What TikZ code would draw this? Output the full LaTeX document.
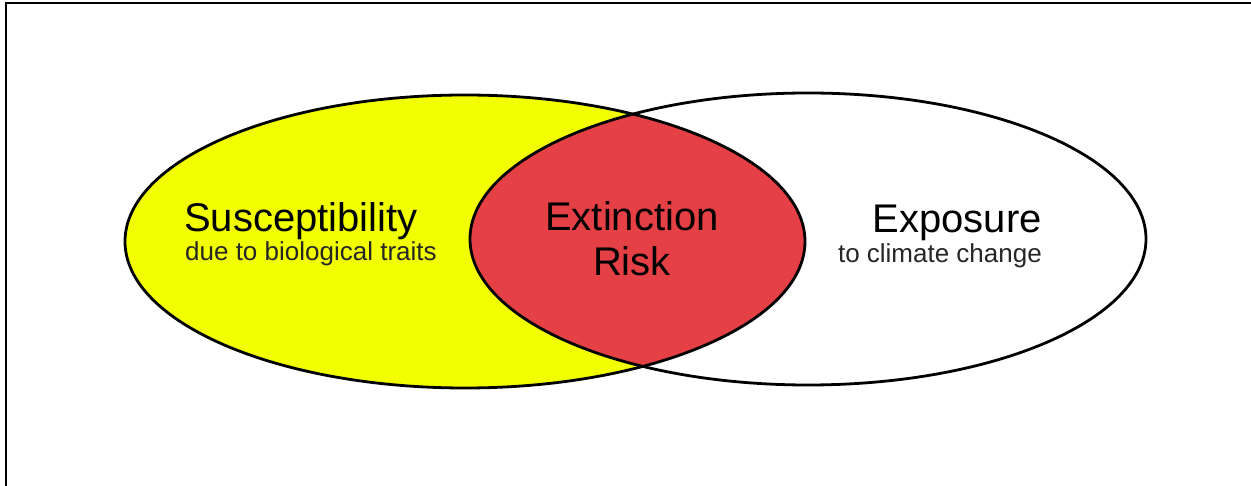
\documentclass[tikz,border=0pt]{standalone}
\usepackage{fontspec}
\setmainfont{Liberation Sans}
\definecolor{venyellow}{HTML}{F2FF00}
\definecolor{venred}{HTML}{E54045}
\begin{document}
\begin{tikzpicture}[x=1pt,y=-1pt,
  outline/.style={draw=black,line width=2.8pt},
  bigtxt/.style={font=\fontsize{40}{43}\selectfont,inner sep=0pt},
  smalltxt/.style={font=\fontsize{26}{29}\selectfont,inner sep=0pt,text=black!85}]
\useasboundingbox (0,0) rectangle (1251,486);
\fill[white] (0,0) rectangle (1251,486);
% frame (cropped)
\coordinate (fa) at (6,486);
\coordinate (fb) at (6,3);
\coordinate (fc) at (1251,3);
\draw[line width=2.2pt] (fa) -- (fb) -- (fc);
% ellipses
\coordinate (L) at (465,241.5);
\coordinate (R) at (808,239);
\fill[venyellow] (L) ellipse [x radius=340, y radius=146.5];
\begin{scope}
  \clip (L) ellipse [x radius=340, y radius=146.5];
  \fill[venred] (R) ellipse [x radius=338, y radius=146];
\end{scope}
\draw[outline] (L) ellipse [x radius=340, y radius=146.5];
\draw[outline] (R) ellipse [x radius=338, y radius=146];
% texts
\node[bigtxt,anchor=base west] (sus) at (184,232) {Susceptibility};
\node[smalltxt,anchor=base west] (sussub) at (185,261) {due to biological traits};
\node[bigtxt,anchor=base] (ext) at (632,231) {Extinction};
\node[bigtxt,anchor=base] (risk) at (632,276) {Risk};
\node[bigtxt,anchor=base east] (exp) at (1042,233) {Exposure};
\node[smalltxt,anchor=base east] (expsub) at (1042,263) {to climate change};
\end{tikzpicture}
\end{document}
